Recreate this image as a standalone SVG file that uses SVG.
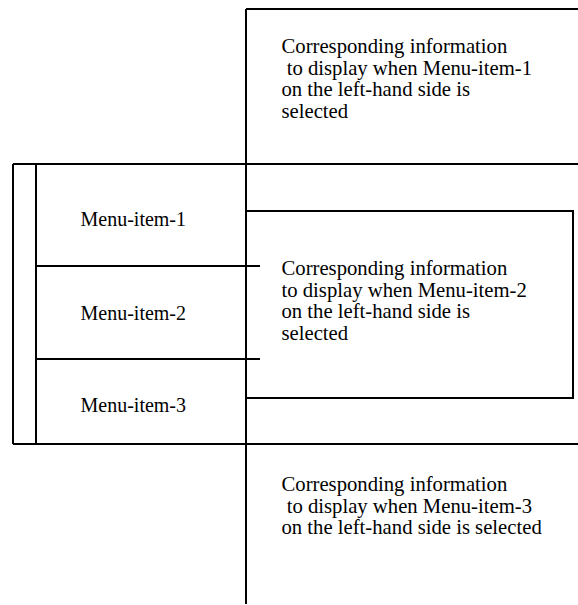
<svg xmlns="http://www.w3.org/2000/svg" width="578" height="605" viewBox="0 0 578 605">
<style>
.ln{stroke:#000;stroke-width:2;fill:none}
text{font-family:"Liberation Serif","Times New Roman",serif;font-size:20px;fill:#000;white-space:pre}
.info text{font-size:20.7px}
</style>
<rect width="578" height="605" fill="#fff"/>
<g id="connectors">
<line class="ln" x1="246" y1="9" x2="246" y2="604"/>
<line class="ln" x1="246" y1="9" x2="578" y2="9"/>
<line class="ln" x1="13" y1="164" x2="578" y2="164"/>
<line class="ln" x1="13" y1="444" x2="578" y2="444"/>
<line class="ln" x1="13" y1="164" x2="13" y2="444"/>
<line class="ln" x1="36" y1="164" x2="36" y2="444"/>
<line class="ln" x1="36" y1="266" x2="260" y2="266"/>
<line class="ln" x1="36" y1="359" x2="260" y2="359"/>
</g>
<g id="menu-item-1"><text x="80.5" y="226">Menu-item-1</text></g>
<g id="menu-item-2"><text x="80.5" y="320">Menu-item-2</text></g>
<g id="menu-item-3"><text x="80.5" y="412">Menu-item-3</text></g>
<g id="info-1" class="info">
<text x="281.5" y="53">Corresponding information</text>
<text x="281.5" y="74.5"> to display when Menu-item-1</text>
<text x="281.5" y="96">on the left-hand side is</text>
<text x="281.5" y="117.5">selected</text>
</g>
<g id="info-2" class="info">
<rect class="ln" x="246" y="211" width="327" height="187"/>
<text x="281.5" y="275">Corresponding information</text>
<text x="281.5" y="296.5">to display when Menu-item-2</text>
<text x="281.5" y="318">on the left-hand side is</text>
<text x="281.5" y="339.5">selected</text>
</g>
<g id="info-3" class="info">
<text x="281.5" y="491">Corresponding information</text>
<text x="281.5" y="512.5"> to display when Menu-item-3</text>
<text x="281.5" y="534">on the left-hand side is selected</text>
</g>
</svg>
